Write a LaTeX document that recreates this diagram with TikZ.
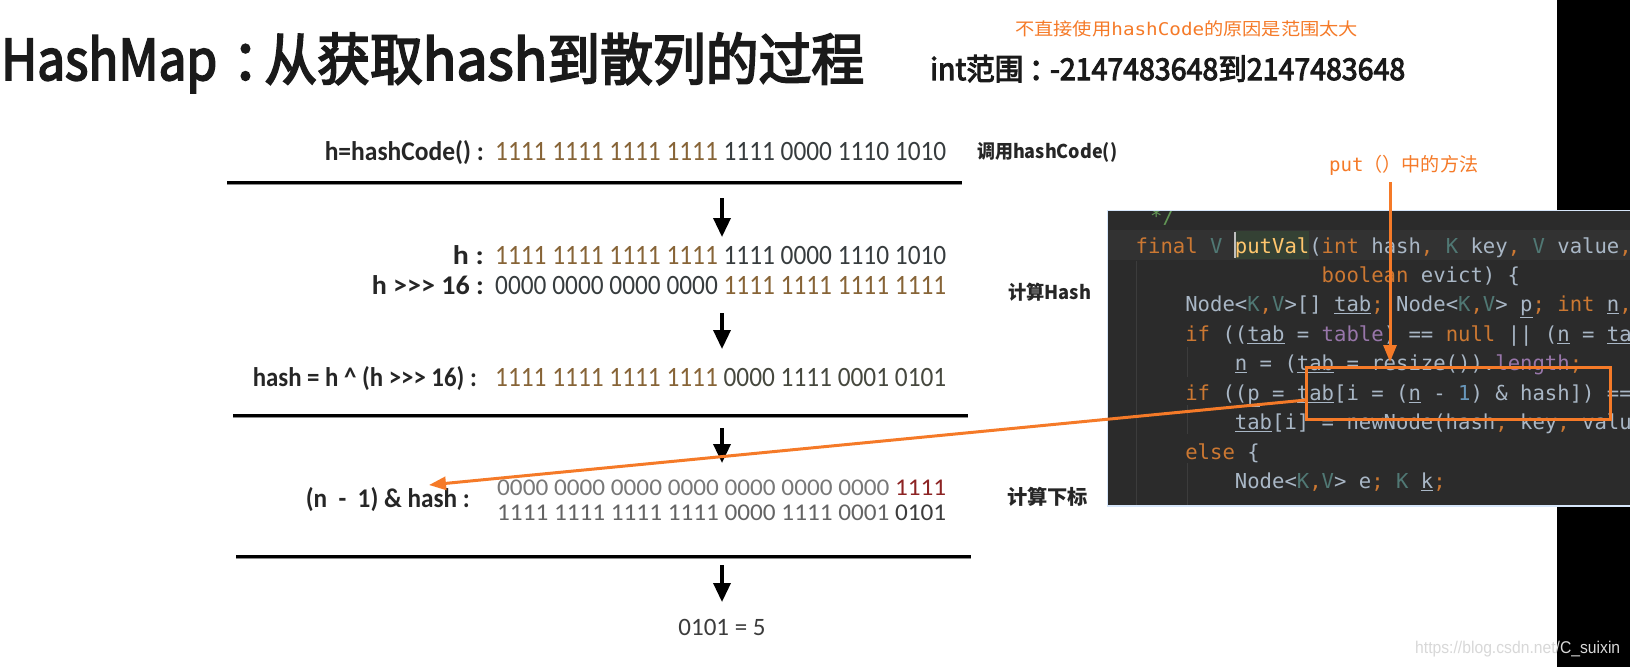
\documentclass[tikz,border=0pt]{standalone}
\usepackage{fontspec}
\usepackage{graphicx}
\usetikzlibrary{arrows.meta}
\setmainfont{Carlito}
\newfontfamily\cjk{Noto Sans CJK SC}
\newfontfamily\cjkm{Noto Sans CJK SC}[FakeBold=3.5]
\newfontfamily\mono{DejaVu Sans Mono}
\newfontfamily\arialf{Liberation Sans}
\definecolor{titlec}{RGB}{26,26,26}
\definecolor{lblc}{RGB}{38,38,38}
\definecolor{brn}{RGB}{135,100,55}
\definecolor{drk}{RGB}{55,60,62}
\definecolor{drk2}{RGB}{70,72,62}
\definecolor{lg}{RGB}{120,120,120}
\definecolor{rd}{RGB}{140,35,35}
\definecolor{mg}{RGB}{100,100,100}
\definecolor{dg}{RGB}{60,60,60}
\definecolor{org}{RGB}{245,122,40}
\definecolor{panelbg}{HTML}{2B2B2B}
\definecolor{curline}{HTML}{323232}
\definecolor{fnbg}{HTML}{344134}
\definecolor{guide}{HTML}{3C3C3C}
\definecolor{glow}{RGB}{214,230,250}
\definecolor{kwc}{HTML}{CC7832}
\definecolor{tpc}{HTML}{507874}
\definecolor{idc}{HTML}{A9B7C6}
\definecolor{fldc}{HTML}{9876AA}
\definecolor{numc}{HTML}{6897BB}
\definecolor{fnc}{HTML}{FFC66D}
\definecolor{cmtc}{HTML}{629755}
\definecolor{wmc}{RGB}{216,216,216}
\newcommand\fitw[2]{\resizebox{#1}{\height}{#2}}
\newcommand\kw[1]{\textcolor{kwc}{#1}}
\newcommand\tp[1]{\textcolor{tpc}{#1}}
\newcommand\fld[1]{\textcolor{fldc}{#1}}
\newcommand\num[1]{\textcolor{numc}{#1}}
\newcommand\ul[1]{\underline{#1}}
\newcommand\gtr{>{}>{}>}
\tikzset{
  lbl/.style={anchor=base east, inner sep=0, text=lblc, font=\bfseries\fontsize{27}{30}\selectfont},
  bitsrow/.style={anchor=base west, inner sep=0, font=\fontsize{28}{30}\selectfont},
  bitssmall/.style={anchor=base west, inner sep=0, font=\fontsize{24}{26}\selectfont},
  side/.style={anchor=base west, inner sep=0, text=lblc, font=\cjk\bfseries\fontsize{19}{22}\selectfont},
  rulel/.style={line width=3pt, black},
  ruleshadow/.style={line width=1.6pt, black!45},
  darrow/.style={line width=3.5pt, black, -{Triangle[length=19pt,width=17pt]}},
  oarrow/.style={line width=3pt, org, -{Triangle[length=17pt,width=13pt]}},
  obox/.style={draw=org, line width=3pt, inner sep=0, minimum width=304pt, minimum height=52pt},
  code/.style={anchor=base west, inner sep=0, text=idc, font=\mono\fontsize{20.6}{24}\selectfont},
  guideline/.style={line width=1pt, guide},
}
\begin{document}
\begin{tikzpicture}[x=1pt,y=-1pt]
\useasboundingbox (0,0) rectangle (1630,667);
\fill[white] (0,0) rectangle (1630,667);
\fill[black] (1557,0) rectangle (1630,667);

% title and header
\node[anchor=base west, inner sep=0, text=titlec] (title) at (1,80)
  {\fitw{863pt}{\cjkm\fontsize{56}{60}\selectfont \fitw{229pt}{HashMap}\makebox[50pt][l]{\hspace{16pt}：}从获取\fitw{132pt}{hash}到散列的过程}};
\node[anchor=base west, inner sep=0, text=titlec] (range) at (930,80)
  {\fitw{475pt}{\cjkm\fontsize{30}{34}\selectfont int范围\makebox[28pt][l]{\hspace{6pt}：}-2147483648到2147483648}};
\node[anchor=base west, inner sep=0, text=org] (why) at (1015,35.5)
  {\fitw{343pt}{\cjk\fontsize{17.5}{20}\selectfont 不直接使用{\mono hashCode}的原因是范围太大}};

% row 1
\node[lbl] (l1) at (484,160) {\fitw{159pt}{h=hashCode() :}};
\node[bitsrow] (b1) at (495,160) {\fitw{451pt}{\textcolor{brn}{1111 1111 1111 1111} \textcolor{drk}{1111 0000 1110 1010}}};
\node[side] (s1) at (977,158) {\fitw{140pt}{调用hashCode()}};
\coordinate (r1a) at (227,182); \coordinate (r1b) at (962,182);
\draw[ruleshadow] (227,184.5) -- (962,184.5);
\draw[rulel] (r1a) -- (r1b);

\coordinate (a1s) at (722,198); \coordinate (a1e) at (722,237);
\draw[darrow] (a1s) -- (a1e);

% rows 2,3
\node[lbl] (l2) at (484,264) {\fitw{31pt}{h :}};
\node[bitsrow] (b2) at (495,264) {\fitw{451pt}{\textcolor{brn}{1111 1111 1111 1111} \textcolor{drk}{1111 0000 1110 1010}}};
\node[lbl] (l3) at (484,294) {\fitw{112pt}{h \gtr{} 16 :}};
\node[bitsrow] (b3) at (495,294) {\fitw{451pt}{\textcolor{drk}{0000 0000 0000 0000} \textcolor{brn}{1111 1111 1111 1111}}};
\node[side] (s2) at (1008,299) {\fitw{83pt}{计算Hash}};

\coordinate (a2s) at (722,313); \coordinate (a2e) at (722,349);
\draw[darrow] (a2s) -- (a2e);

% row 4
\node[lbl] (l4) at (477,386) {\fitw{224pt}{hash = h \textasciicircum{} (h \gtr{} 16) :}};
\node[bitsrow] (b4) at (495,386) {\fitw{451pt}{\textcolor{brn}{1111 1111 1111 1111} \textcolor{drk2}{0000 1111 0001 0101}}};
\draw[ruleshadow] (233,417.5) -- (968,417.5);
\coordinate (r2a) at (233,415); \coordinate (r2b) at (968,415);
\draw[rulel] (r2a) -- (r2b);

\coordinate (a3s) at (722,428); \coordinate (a3e) at (722,463);
\draw[darrow] (a3s) -- (a3e);

% row 5
\node[lbl] (l5) at (470,507.5) {\fitw{164pt}{(n\ \ -\ \ 1) \& hash :}};
\node[bitssmall] (b5) at (497,495) {\fitw{449pt}{\textcolor{lg}{0000 0000 0000 0000 0000 0000 0000} \textcolor{rd}{1111}}};
\node[bitssmall] (b6) at (497,520) {\fitw{449pt}{\textcolor{mg}{1111 1111 1111 1111 0000 1111 0001} \textcolor{dg}{0101}}};
\node[side, font=\cjk\bfseries\fontsize{20}{22}\selectfont] (s3) at (1007,504.5) {\fitw{81pt}{计算下标}};
\draw[ruleshadow] (236,558.5) -- (971,558.5);
\coordinate (r3a) at (236,556); \coordinate (r3b) at (971,556);
\draw[rulel] (r3a) -- (r3b);

\coordinate (a4s) at (722,565); \coordinate (a4e) at (722,602);
\draw[darrow] (a4s) -- (a4e);
\node[anchor=base, inner sep=0, text=dg, font=\fontsize{25}{28}\selectfont] (res) at (722,635) {0101 = 5};

% code panel
\fill[glow] (1106.5,209.5) rectangle (1630,506.5);
\fill[panelbg] (1108,211) rectangle (1630,505);
\begin{scope}
\clip (1108,211) rectangle (1630,505);
\fill[curline] (1108,230) rectangle (1630,260);
\fill[fnbg] (1234.7,231) rectangle (1309.2,259);
\draw[guideline] (1136.5,261) -- (1136.5,505);
\draw[guideline] (1187,347) -- (1187,377);
\draw[guideline] (1187,405) -- (1187,434);
\draw[guideline] (1187,463) -- (1187,505);
\node[code] (c0) at (1150,223.5) {\textcolor{cmtc}{*/}};
\node[code] (c1) at (1135.5,253) {\kw{final} \tp{V} \textcolor{fnc}{putVal}(\kw{int} hash\kw{,} \tp{K} key\kw{,} \tp{V} value\kw{,}};
\node[code] (c2) at (1321.5,282.5) {\kw{boolean} evict) \{};
\node[code] (c3) at (1185.1,311.9) {Node<\tp{K}\kw{,}\tp{V}>[] \ul{tab}\kw{;} Node<\tp{K}\kw{,}\tp{V}> \ul{p}\kw{;} \kw{int} \ul{n}\kw{,}};
\node[code] (c4) at (1185.1,341.4) {\kw{if} ((\ul{tab} = \fld{table}) == \kw{null} || (\ul{n} = \ul{ta}};
\node[code] (c5) at (1234.7,370.8) {\ul{n} = (\ul{tab} = resize()).\fld{length}\kw{;}};
\node[code] (c6) at (1185.1,400.3) {\kw{if} ((\ul{p} = \ul{tab}[i = (\ul{n} - \num{1}) \& hash]) ==};
\node[code] (c7) at (1234.7,429.7) {\ul{tab}[i] = newNode(hash\kw{,} key\kw{,} value};
\node[code] (c8) at (1185.1,459.2) {\kw{else} \{};
\node[code] (c9) at (1234.7,488.6) {Node<\tp{K}\kw{,}\tp{V}> e\kw{;} \tp{K} \ul{k}\kw{;}};
\draw[line width=2pt, black!25] (1234.5,232) -- (1234.5,258);
\end{scope}

% orange annotations
\node[anchor=base west, inner sep=0, text=org] (put) at (1329,171.5)
  {\fitw{149pt}{\cjk\fontsize{19}{22}\selectfont{\mono put}（）中的方法}};
\coordinate (p1) at (1390,182); \coordinate (p2) at (1390,362);
\draw[oarrow] (p1) -- (p2);
\node[obox] (box) at (1458,393.5) {};
\coordinate (bs) at (1306,400); \coordinate (be) at (429,485);
\draw[oarrow] (bs) -- (be);

% watermark
\node[anchor=base west, inner sep=0, text=wmc] (wm) at (1415,653)
  {\fitw{205pt}{\arialf\fontsize{17}{20}\selectfont https://blog.csdn.net/C\_suixin}};
\end{tikzpicture}
\end{document}
